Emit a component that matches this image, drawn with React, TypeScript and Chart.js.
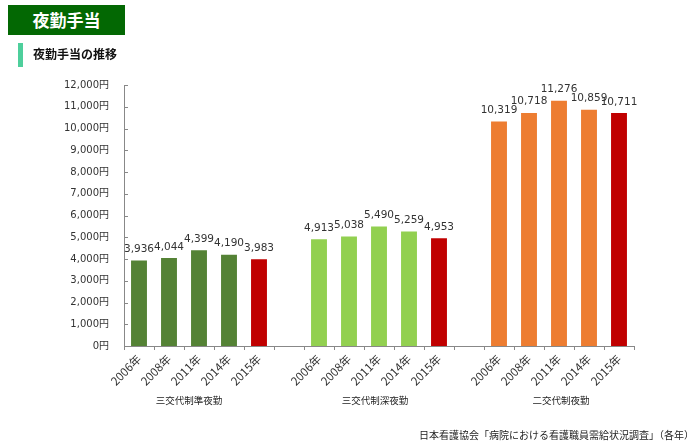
import React, { useEffect, useRef } from "react";
import { Chart, registerables } from "chart.js";

Chart.register(...registerables);

const years = ["2006年", "2008年", "2011年", "2014年", "2015年"];
const groupNames = ["三交代制準夜勤", "三交代制深夜勤", "二交代制夜勤"];
const semiNight = [3936, 4044, 4399, 4190, 3983];
const deepNight = [4913, 5038, 5490, 5259, 4953];
const twoShift = [10319, 10718, 11276, 10859, 10711];
const groupColors = ["#548235", "#92D050", "#ED7D31"];
const latestColor = "#C00000";
const yTicks = { min: 0, max: 12000, step: 1000 };

const NUM_FONT = '"DejaVu Sans", "Noto Sans CJK JP", sans-serif';
const JP_FONT = '"Noto Sans CJK JP", "DejaVu Sans", sans-serif';

export default function App() {
  const ref = useRef<HTMLCanvasElement | null>(null);

  useEffect(() => {
    const groups = [semiNight, deepNight, twoShift];
    const labels: string[] = [];
    const values: (number | null)[] = [];
    const colors: string[] = [];
    const groupRanges: [number, number][] = [];
    groups.forEach((g, gi) => {
      if (gi > 0) {
        labels.push("");
        values.push(null);
        colors.push("transparent");
      }
      const start = labels.length;
      g.forEach((v, i) => {
        labels.push(years[i]);
        values.push(v);
        colors.push(i === g.length - 1 ? latestColor : groupColors[gi]);
      });
      groupRanges.push([start, labels.length - 1]);
    });

    const fmt = (v: number) => v.toLocaleString("en-US");

    const overlay = {
      id: "overlay",
      afterDraw(chart: any) {
        const ctx = chart.ctx;
        const meta = chart.getDatasetMeta(0);
        ctx.save();
        // value labels
        ctx.font = `10.5px ${NUM_FONT}`;
        ctx.fillStyle = "#333";
        ctx.textAlign = "center";
        ctx.textBaseline = "bottom";
        meta.data.forEach((bar: any, i: number) => {
          const v = values[i];
          if (v == null) return;
          ctx.fillText(fmt(v), bar.x, bar.y - 6);
        });
        // inner y ticks
        const ys = chart.scales.y;
        const left = chart.chartArea.left;
        ctx.strokeStyle = "#888";
        ctx.lineWidth = 1;
        ys.ticks.forEach((t: any) => {
          const y = Math.round(ys.getPixelForValue(t.value)) + 0.5;
          ctx.beginPath();
          ctx.moveTo(left, y);
          ctx.lineTo(left + 4, y);
          ctx.stroke();
        });
        // group labels
        const xs = chart.scales.x;
        ctx.font = `9.5px ${JP_FONT}`;
        ctx.fillStyle = "#222";
        ctx.textBaseline = "middle";
        groupRanges.forEach(([a, b], gi) => {
          const cx = (xs.getPixelForValue(a) + xs.getPixelForValue(b)) / 2 + (gi - 1) * 6 - 4;
          ctx.fillText(groupNames[gi], cx, 400);
        });
        ctx.restore();
      },
    };

    const chart = new Chart(ref.current!, {
      type: "bar",
      data: {
        labels,
        datasets: [
          {
            data: values,
            backgroundColor: colors,
            categoryPercentage: 1,
            barPercentage: 0.53,
          },
        ],
      },
      options: {
        animation: false,
        responsive: false,
        layout: { padding: { left: 0, right: 66, top: 85, bottom: 0 } },
        plugins: { legend: { display: false }, tooltip: { enabled: false } },
        scales: {
          x: {
            grid: {
              display: true,
              drawOnChartArea: false,
              drawTicks: true,
              tickLength: 4,
              color: "#888",
              offset: true,
            },
            border: { display: true, color: "#888" },
            ticks: {
              autoSkip: false,
              maxRotation: 45,
              minRotation: 45,
              color: "#333",
              padding: 2,
              font: { size: 11.5, family: JP_FONT },
            },
            afterFit: (s: any) => {
              s.height = 100;
            },
          },
          y: {
            min: yTicks.min,
            max: yTicks.max,
            grid: { display: false },
            border: { display: true, color: "#888" },
            ticks: {
              stepSize: yTicks.step,
              padding: 7,
              color: "#333",
              font: { size: 10, family: NUM_FONT },
              callback: (v: any) => fmt(Number(v)) + "円",
            },
            afterFit: (s: any) => {
              s.width = 124;
            },
          },
        },
      },
      plugins: [overlay],
    });
    return () => chart.destroy();
  }, []);

  return (
    <div style={{ position: "absolute", left: 0, top: 0, width: 700, height: 446, background: "#fff", overflow: "hidden" }}>
      <canvas ref={ref} width={700} height={446} style={{ position: "absolute", left: 0, top: 0 }} />
      <div
        style={{
          position: "absolute", left: 8, top: 5, width: 117, height: 30,
          background: "#036803", color: "#fff", fontFamily: JP_FONT, fontWeight: "bold",
          fontSize: 17, lineHeight: "30px", textAlign: "center",
        }}
      >
        夜勤手当
      </div>
      <div style={{ position: "absolute", left: 18, top: 43, width: 5, height: 24, background: "#4ecf9c" }} />
      <div
        style={{
          position: "absolute", left: 33, top: 45, height: 18, lineHeight: "18px",
          fontFamily: JP_FONT, fontWeight: "bold", fontSize: 12, color: "#111",
        }}
      >
        夜勤手当の推移
      </div>
      <div
        style={{
          position: "absolute", right: 6, top: 427, height: 16, lineHeight: "16px",
          fontFamily: JP_FONT, fontSize: 10, color: "#222", whiteSpace: "nowrap",
        }}
      >
        日本看護協会「病院における看護職員需給状況調査」（各年）
      </div>
    </div>
  );
}
